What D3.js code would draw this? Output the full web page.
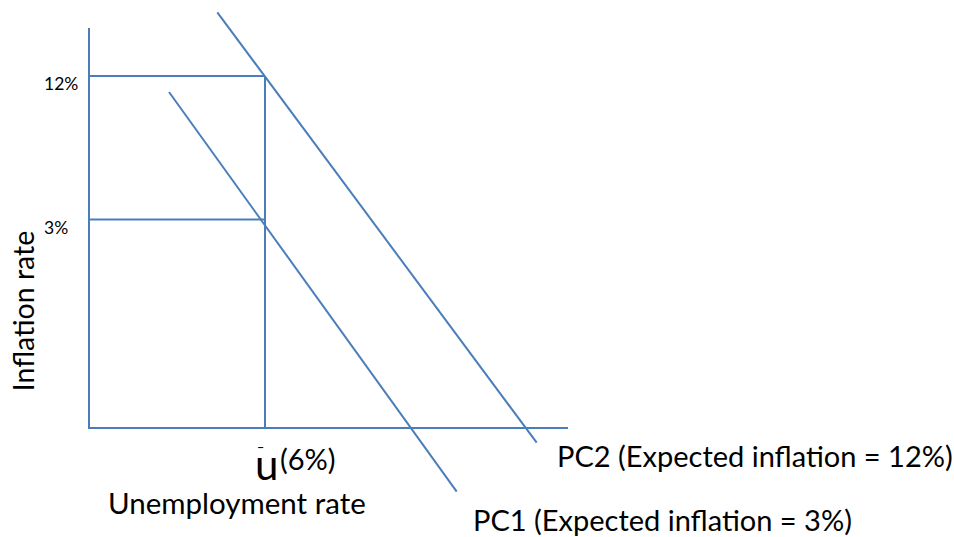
<!DOCTYPE html>
<html>
<head>
<meta charset="utf-8">
<script src="https://cdn.jsdelivr.net/npm/d3@7"></script>
<style>
  body { margin: 0; background: #fff; }
  svg text { font-family: Lato, "Open Sans", sans-serif; fill: #000; }
</style>
</head>
<body>
<svg id="chart" width="954" height="537"></svg>
<script>
// diagram units (schematic, not to scale)
const naturalRate = 17.6;          // u-bar position on the x axis
const naturalLabel = "(6%)";
const inflationLevels = [35.2, 20.85];
const inflationLabels = ["12%", "3%"];
const curveNames = ["PC2 (Expected inflation = 12%)", "PC1 (Expected inflation = 3%)"];
const pc2 = [[12.83, 41.57], [44.77, -1.47]];
const pc1 = [[8.0, 33.6], [36.77, -6.37]];
const axisEnds = { x: 47.9, y: 40 };

const svg = d3.select("#chart");
const color = "#4a7ebb";

const x = d3.scaleLinear().domain([0, 48]).range([89, 569]);
const y = d3.scaleLinear().domain([0, 40]).range([428, 28]);

const line = d3.line().x(d => x(d[0])).y(d => y(d[1]));

function drawLine(pts) {
  svg.append("path")
    .attr("d", line(pts))
    .attr("fill", "none")
    .attr("stroke", color)
    .attr("stroke-width", 2);
}

// axes
drawLine([[0, axisEnds.y], [0, 0], [axisEnds.x, 0]]);

// guide lines at 12% and 3%
inflationLevels.forEach(v => drawLine([[0, v], [naturalRate, v]]));
drawLine([[naturalRate, inflationLevels[0]], [naturalRate, 0]]);

// phillips curves
drawLine(pc2);
drawLine(pc1);

// tick labels
svg.selectAll(".tick-lab")
  .data(inflationLevels)
  .join("text")
  .attr("class", "tick-lab")
  .attr("x", 44)
  .attr("y", d => y(d) + 14)
  .attr("font-size", 17.5)
  .text((d, i) => inflationLabels[i]);

// axis titles
svg.append("text")
  .attr("transform", "translate(34,311) rotate(-90)")
  .attr("text-anchor", "middle")
  .attr("font-size", 28.5)
  .text("Inflation rate");

svg.append("text")
  .attr("x", 108)
  .attr("y", 514)
  .attr("font-size", 29.5)
  .text("Unemployment rate");

// u-bar label: u, small bar above it, then (6%)
const ub = svg.append("text").attr("x", x(naturalRate) - 10).attr("y", 480);
ub.append("tspan").attr("font-size", 42).text("u");
ub.append("tspan").attr("x", x(naturalRate) - 8).attr("y", 459).attr("font-size", 18).text("¯");
ub.append("tspan").attr("x", 280).attr("y", 470).attr("font-size", 29).text(naturalLabel);

// curve labels
svg.append("text")
  .attr("x", 557)
  .attr("y", 467)
  .attr("font-size", 29)
  .text(curveNames[0]);
svg.append("text")
  .attr("x", 473)
  .attr("y", 531)
  .attr("font-size", 29)
  .text(curveNames[1]);
</script>
</body>
</html>
